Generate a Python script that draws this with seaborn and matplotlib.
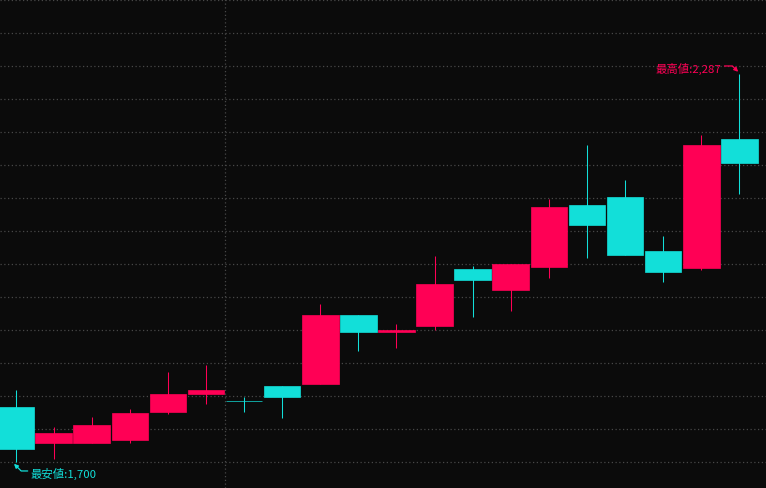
import matplotlib
matplotlib.use("Agg")
import matplotlib.pyplot as plt
import numpy as np
import pandas as pd
import seaborn as sns

# daily OHLC (20 sessions)
opens = [1783, 1729, 1729, 1733, 1776, 1803, 1792, 1815, 1818, 1923,
         1896, 1906, 1992, 1961, 1995, 2089, 2101, 2020, 1994, 2189]
highs = [1809, 1753, 1768, 1780, 1836, 1847, 1798, 1815, 1939, 1923,
         1909, 2012, 1997, 2000, 2098, 2180, 2127, 2042, 2195, 2287]
lows = [1700, 1705, 1729, 1729, 1773, 1788, 1776, 1767, 1818, 1868,
        1873, 1900, 1919, 1929, 1979, 2009, 2014, 1972, 1991, 2106]
closes = [1720, 1744, 1756, 1774, 1803, 1809, 1792, 1798, 1923, 1897,
          1899, 1970, 1976, 2000, 2086, 2059, 2014, 1988, 2180, 2153]
month_break = 5.5
high_label = "最高値:2,287"
low_label = "最安値:1,700"

UP = "#ff0055"
DOWN = "#12dfd9"
BG = "#0b0b0b"
GRID = "#484848"

df = pd.DataFrame({"open": opens, "high": highs, "low": lows, "close": closes})
df["x"] = np.arange(len(df))
df["color"] = np.where(df["close"] > df["open"], UP, DOWN)
df["bottom"] = df[["open", "close"]].min(axis=1)
df["height"] = (df["close"] - df["open"]).abs()

sns.set_theme(style="dark", rc={"axes.facecolor": BG, "figure.facecolor": BG})
plt.rcParams["font.family"] = ["Noto Sans CJK JP", "DejaVu Sans"]

fig = plt.figure(figsize=(7.66, 4.89), dpi=100)
ax = fig.add_axes([0, 0, 1, 1])
ax.set_facecolor(BG)

# wicks under the bodies
ax.vlines(df["x"], df["low"], df["high"], colors=df["color"], lw=0.75, zorder=2)
ax.bar(df["x"], df["height"], bottom=df["bottom"], width=0.96,
       color=df["color"], edgecolor=df["color"], linewidth=0.5, zorder=3)

ax.set_xlim(-0.407, 19.70)
ax.set_ylim(1660.3, 2401.3)
ax.set_yticks(np.arange(1700, 2401, 50))
ax.yaxis.grid(True, color=GRID, linestyle=(0, (1, 2)), linewidth=0.9)
ax.xaxis.grid(False)
ax.axvline(month_break, color=GRID, linestyle=(0, (1, 2)), linewidth=0.9, zorder=1)
ax.tick_params(length=0, labelleft=False, labelbottom=False)
for s in ax.spines.values():
    s.set_visible(False)

hi = df["high"].idxmax()
lo = df["low"].idxmin()
ax.annotate(high_label, xy=(df.loc[hi, "x"] - 0.03, df.loc[hi, "high"] + 4),
            xytext=(-17, 4), textcoords="offset pixels",
            ha="right", va="center", fontsize=8.2, color=UP,
            arrowprops=dict(arrowstyle="-|>", color=UP, lw=0.9, mutation_scale=6,
                            shrinkA=0, shrinkB=0, relpos=(1, 0.65),
                            connectionstyle="angle,angleA=0,angleB=135,rad=0"))
ax.annotate(low_label, xy=(df.loc[lo, "x"] - 0.04, df.loc[lo, "low"] - 3),
            xytext=(17, -9), textcoords="offset pixels",
            ha="left", va="center", fontsize=8.2, color=DOWN,
            arrowprops=dict(arrowstyle="-|>", color=DOWN, lw=0.9, mutation_scale=6,
                            shrinkA=0, shrinkB=0, relpos=(0, 0.65),
                            connectionstyle="angle,angleA=180,angleB=-45,rad=0"))

fig.savefig("out.png", dpi=100, facecolor=BG)
